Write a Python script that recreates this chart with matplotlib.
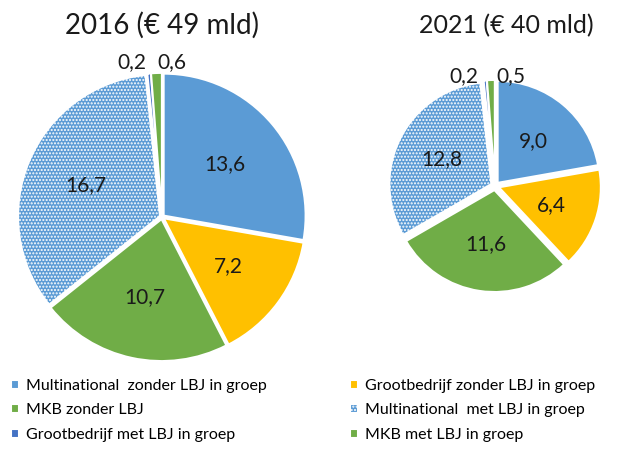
import numpy as np
import matplotlib.pyplot as plt

plt.rcParams['font.family'] = ['Lato', 'DejaVu Sans']
plt.rcParams['hatch.linewidth'] = 1.0

categories = ['Multinational  zonder LBJ in groep', 'Grootbedrijf zonder LBJ in groep',
              'MKB zonder LBJ', 'Multinational  met LBJ in groep',
              'Grootbedrijf met LBJ in groep', 'MKB met LBJ in groep']
values_2016 = [13.6, 7.2, 10.7, 16.7, 0.2, 0.6]
values_2021 = [9.0, 6.4, 11.6, 12.8, 0.2, 0.5]
labels_2016 = ['13,6', '7,2', '10,7', '16,7', '0,2', '0,6']
labels_2021 = ['9,0', '6,4', '11,6', '12,8', '0,2', '0,5']
titles = ['2016 (€ 49 mld)', '2021 (€ 40 mld)']

colors = ['#5B9BD5', '#FFC000', '#70AD47', '#5B9BD5', '#4472C4', '#70AD47']

W, H = 627, 453
fig = plt.figure(figsize=(W / 100, H / 100), dpi=100)


def make_ax(cx, cy, r):
    return fig.add_axes([(cx - r) / W, 1 - (cy + r) / H, 2 * r / W, 2 * r / H])


def draw(ax, vals, labs, title, explode, fs, title_fs, title_x, title_y, small_y, small_dx):
    wedges, _ = ax.pie(vals, colors=colors, startangle=90, counterclock=False,
                       explode=[explode] * len(vals),
                       wedgeprops=dict(edgecolor='white', linewidth=1.5))
    wedges[3].set_hatch('.....')
    for i, w in enumerate(wedges):
        ang = np.deg2rad((w.theta1 + w.theta2) / 2)
        if vals[i] < 1:
            ha = 'right' if i == 4 else 'left'
            dx = -small_dx if i == 4 else small_dx
            ax.text(np.cos(ang) * 1.12 + dx, small_y, labs[i], ha=ha, va='center',
                    fontsize=fs, color='#1a1a1a')
        else:
            ax.text(np.cos(ang) * 0.58, np.sin(ang) * 0.58, labs[i], ha='center',
                    va='center', fontsize=fs, color='#1a1a1a')
    ax.set_xlim(-1, 1)
    ax.set_ylim(-1, 1)
    ax.set_aspect('equal')
    ax.axis('off')
    ax.text(title_x, title_y, title, ha='center', va='center', fontsize=title_fs,
            color='#1a1a1a', clip_on=False)
    return wedges


ax1 = make_ax(162, 217, 142)
w1 = draw(ax1, values_2016, labels_2016, titles[0], 0.015, 15, 20, 0.0, 1.35, 1.09, 0.01)
ax2 = make_ax(495, 186, 102)
draw(ax2, values_2021, labels_2021, titles[1], 0.04, 15, 18, 0.11, 1.57, 1.08, 0.06)

order = [0, 2, 4, 1, 3, 5]
fig.legend([w1[i] for i in order], [categories[i] for i in order], ncol=2,
           loc='upper left', bbox_to_anchor=(-0.005, 0.195), frameon=False,
           fontsize=11.5, handlelength=0.5, handleheight=0.5, handletextpad=0.4,
           columnspacing=5.25, labelspacing=0.65)

fig.savefig('out.png', dpi=100)
